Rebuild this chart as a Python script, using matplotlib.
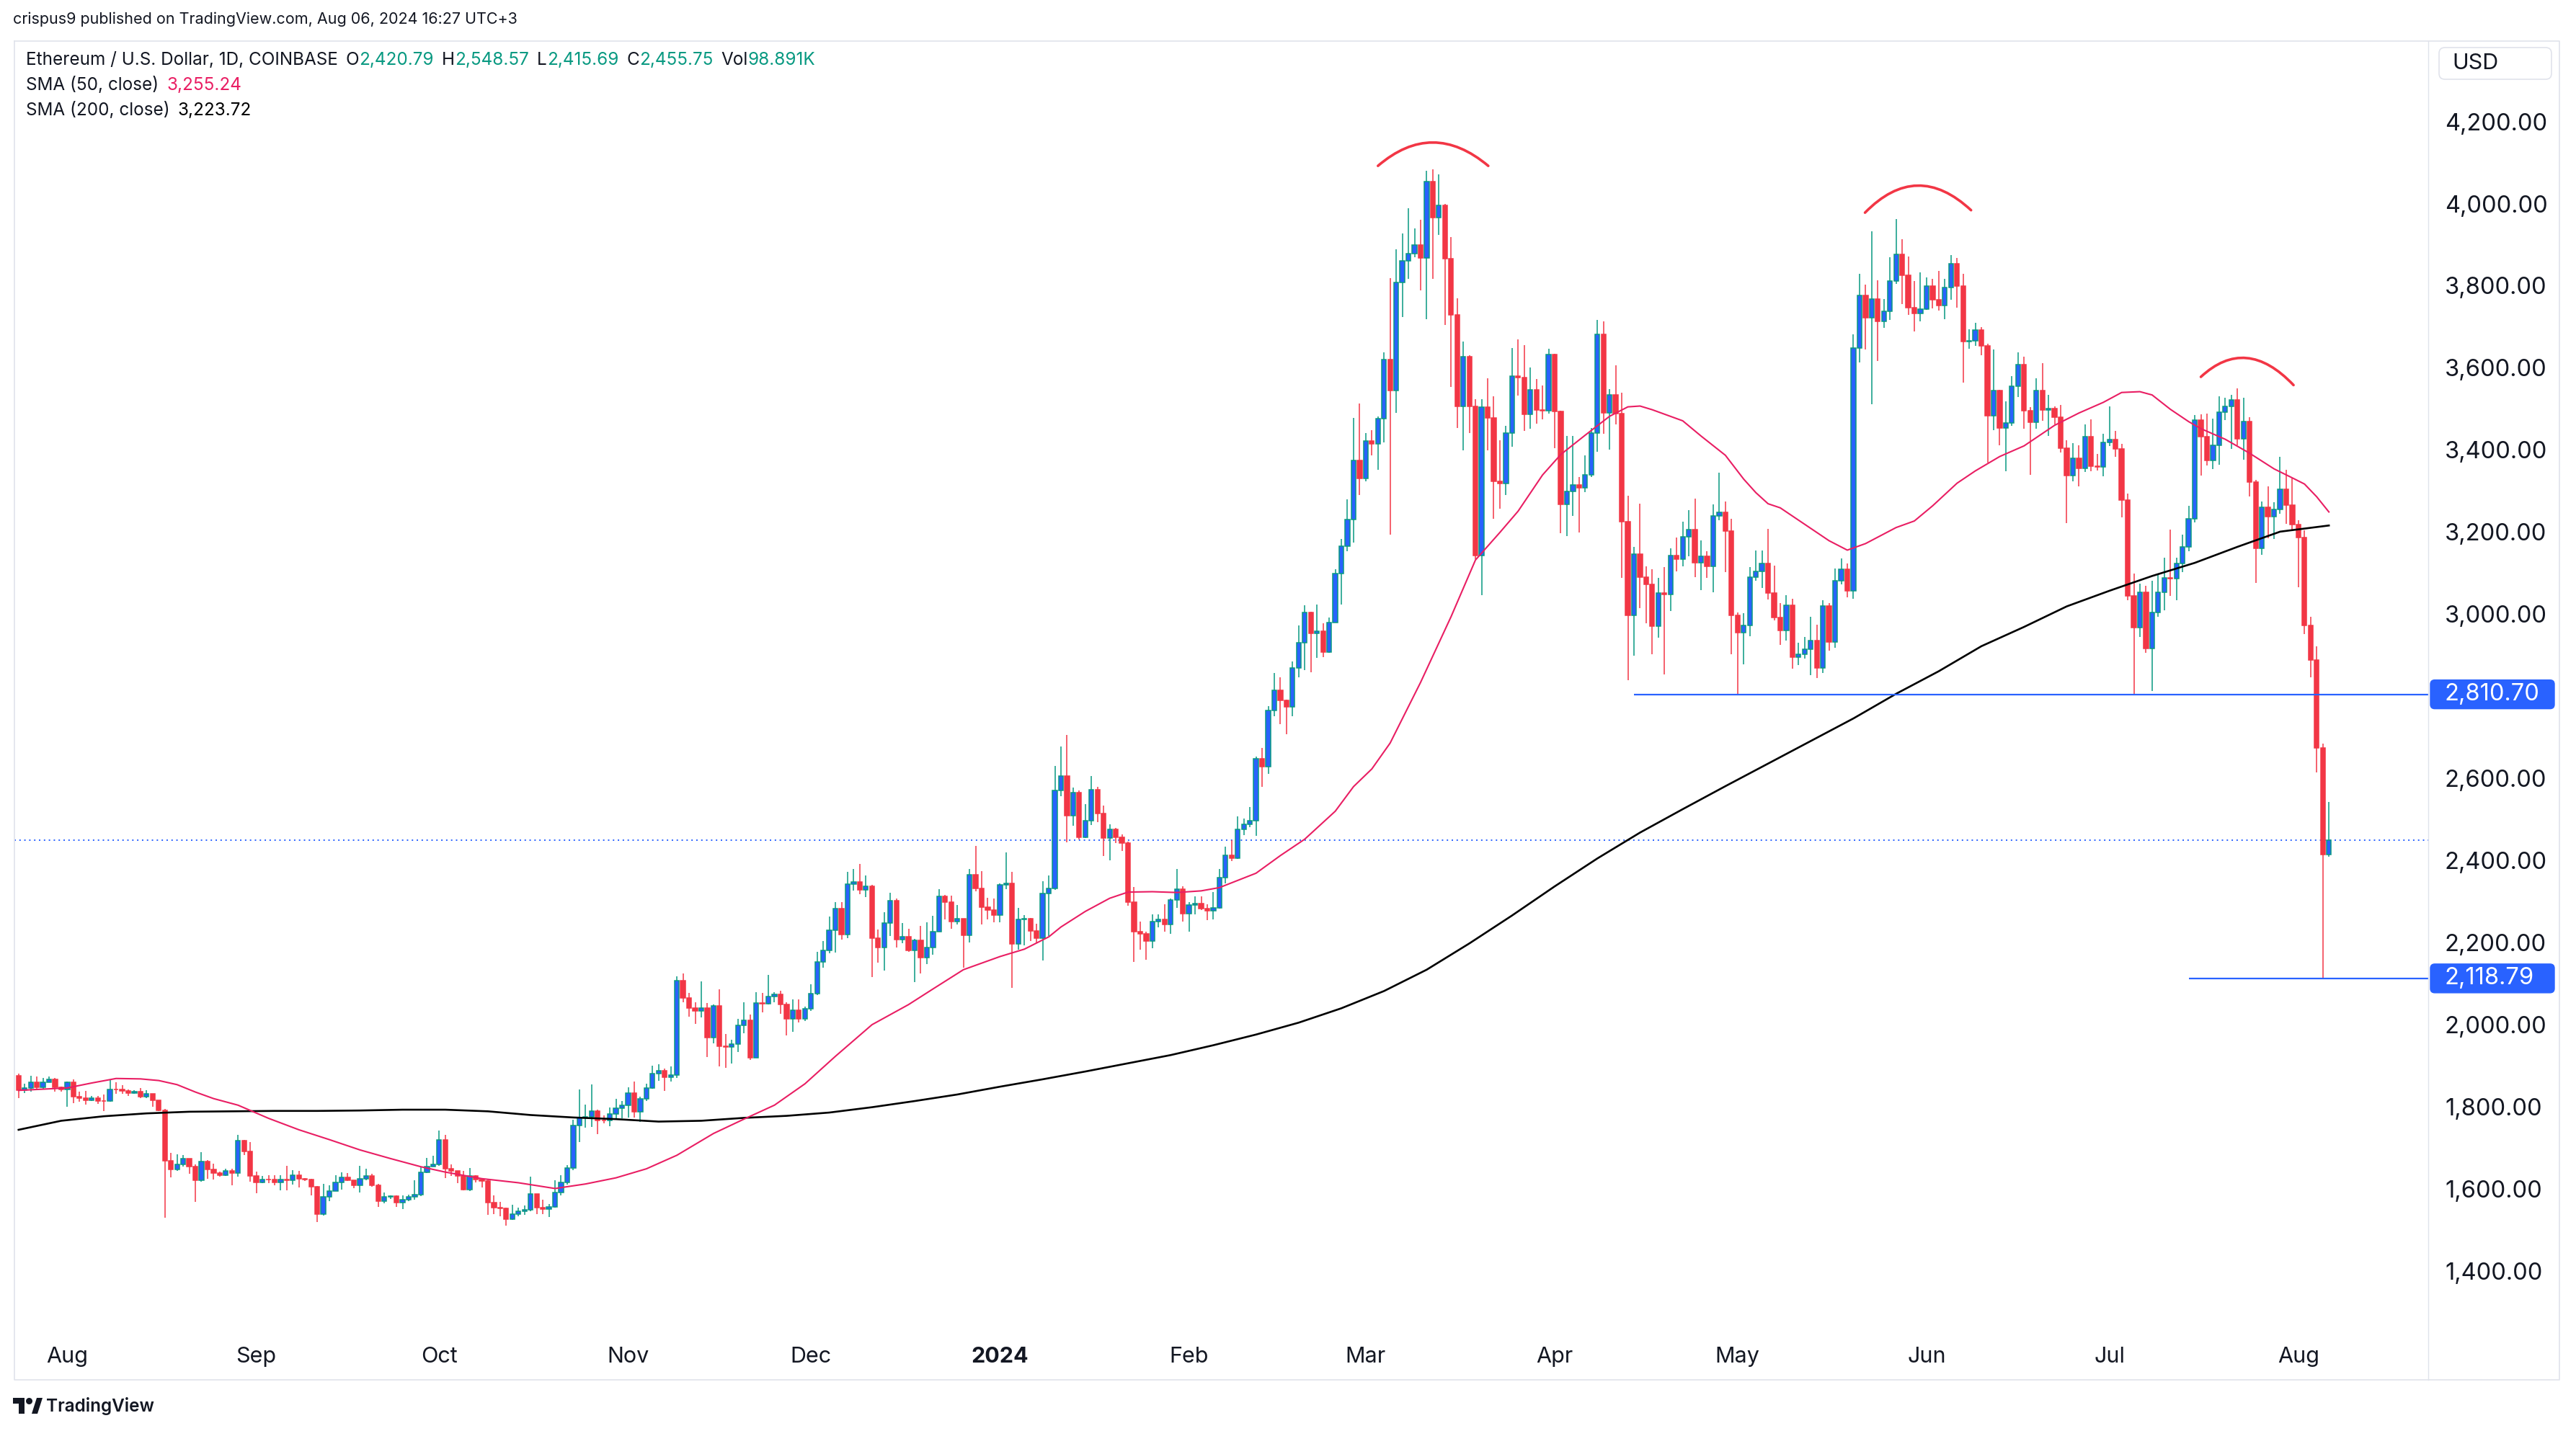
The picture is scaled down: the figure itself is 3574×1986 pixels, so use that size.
import numpy as np
import pandas as pd
import matplotlib
matplotlib.use("Agg")
import matplotlib.pyplot as plt
import matplotlib.dates as mdates
from matplotlib.path import Path
from matplotlib.patches import PathPatch, FancyBboxPatch, Circle, Polygon
from matplotlib.transforms import blended_transform_factory, Affine2D

plt.rcParams['font.family'] = ['Inter', 'DejaVu Sans']

# ETH/USD daily candles, Coinbase, 2023-07-24 .. 2024-08-06
first_day = "2023-07-24"
first_open = 1882

close = [
    1846, 1851, 1865, 1854, 1866, 1873, 1853, 1848,  # Jul
    1866, 1831, 1827, 1822, 1828, 1821, 1820, 1849, 1848, 1845, 1840, 1843, 1831, 1837, 1822, 1798,
    1675, 1653, 1665, 1679, 1660, 1627, 1672, 1653, 1644, 1640, 1650, 1645, 1723, 1698, 1638,  # Aug
    1622, 1629, 1628, 1622, 1628, 1627, 1640, 1630, 1628, 1611, 1545, 1586, 1601, 1621, 1634,
    1627, 1615, 1630, 1637, 1615, 1577, 1586, 1588, 1573, 1580, 1586, 1592, 1646, 1661, 1665,  # Sep
    1726, 1656, 1650, 1637, 1605, 1638, 1628, 1626, 1572, 1560, 1558, 1533, 1545, 1552, 1556, 1593,
    1560, 1557, 1563, 1597, 1622, 1657, 1760, 1779, 1782, 1796, 1773, 1772, 1789, 1803, 1809,  # Oct
    1840, 1794, 1826, 1851, 1886, 1894, 1878, 1883, 2114, 2071, 2047, 2039, 2046, 1974, 2052,
    1954, 1952, 1959, 2005, 2016, 1926, 2058, 2057, 2074, 2080, 2056, 2021, 2041, 2021, 2045,  # Nov
    2082, 2159, 2187, 2237, 2288, 2226, 2349, 2353, 2334, 2344, 2217, 2194, 2254, 2308, 2213, 2220,
    2187, 2211, 2170, 2194, 2233, 2319, 2304, 2257, 2264, 2224, 2372, 2338, 2292, 2285, 2273,  # Dec
    2346, 2351, 2203, 2262, 2264, 2235, 2216, 2326, 2338, 2577, 2611, 2516, 2572, 2463, 2503, 2579,
    2520, 2461, 2482, 2463, 2448, 2305, 2233, 2227, 2210, 2258, 2262, 2250, 2310, 2337, 2276,  # Jan
    2297, 2301, 2289, 2284, 2291, 2365, 2418, 2412, 2481, 2494, 2503, 2654, 2634, 2771, 2820,
    2796, 2780, 2875, 2937, 3010, 2960, 2965, 2914, 2986, 3105, 3171, 3237, 3380, 3336,  # Feb
    3428, 3420, 3483, 3626, 3550, 3814, 3867, 3885, 3905, 3874, 4059, 3972, 4001, 3872, 3735, 3512,
    3634, 3512, 3148, 3510, 3484, 3329, 3324, 3448, 3585, 3583, 3492, 3552, 3503, 3502, 3638,  # Mar
    3499, 3273, 3305, 3320, 3313, 3345, 3448, 3688, 3497, 3540, 3495, 3232, 3004, 3152, 3096,
    3078, 2977, 3058, 3054, 3149, 3140, 3195, 3212, 3132, 3147, 3123, 3246, 3255, 3208, 3004,  # Apr
    2961, 2979, 3097, 3111, 3130, 3057, 2997, 2966, 3028, 2902, 2908, 2921, 2942, 2875, 3026, 2939,
    3087, 3115, 3063, 3654, 3782, 3728, 3774, 3720, 3743, 3817, 3883, 3832, 3753, 3738, 3749,  # May
    3806, 3772, 3757, 3802, 3860, 3805, 3670, 3672, 3698, 3659, 3489, 3551, 3459, 3472, 3561,
    3614, 3502, 3474, 3551, 3504, 3507, 3486, 3411, 3343, 3386, 3362, 3439, 3366, 3364, 3424,  # Jun
    3432, 3408, 3284, 3050, 2973, 3060, 2923, 3010, 3060, 3094, 3092, 3129, 3170, 3239, 3479, 3439,
    3380, 3417, 3498, 3512, 3528, 3433, 3476, 3328, 3166, 3267, 3244, 3262, 3310, 3271, 3225,  # Jul
    3193, 2978, 2895, 2681, 2420.79, 2455.75,  # Aug
]

high = [
    1886, 1862, 1881, 1879, 1876, 1879, 1877, 1855,
    1868, 1872, 1843, 1844, 1832, 1832, 1836, 1871, 1865, 1858, 1848, 1846, 1852, 1846, 1838, 1822,
    1800, 1693, 1690, 1688, 1680, 1665, 1695, 1676, 1668, 1648, 1655, 1656, 1738, 1725, 1720,
    1648, 1638, 1640, 1640, 1640, 1663, 1652, 1650, 1632, 1630, 1613, 1619, 1615, 1640, 1647,
    1644, 1627, 1663, 1655, 1643, 1618, 1597, 1590, 1590, 1591, 1592, 1627, 1661, 1682, 1687,
    1749, 1737, 1665, 1650, 1650, 1657, 1640, 1633, 1630, 1590, 1574, 1561, 1568, 1560, 1565, 1635,
    1594, 1580, 1570, 1627, 1640, 1664, 1775, 1848, 1812, 1860, 1799, 1785, 1805, 1825, 1820,
    1853, 1868, 1830, 1863, 1907, 1909, 1900, 1905, 2124, 2130, 2083, 2060, 2112, 2058, 2056,
    2093, 1983, 1970, 2020, 2060, 2030, 2085, 2083, 2128, 2085, 2089, 2060, 2068, 2068, 2050,
    2105, 2183, 2210, 2270, 2305, 2305, 2378, 2386, 2397, 2370, 2347, 2238, 2280, 2327, 2313, 2253,
    2240, 2215, 2247, 2256, 2272, 2337, 2323, 2320, 2297, 2264, 2386, 2442, 2380, 2315, 2313,
    2350, 2426, 2379, 2291, 2273, 2266, 2252, 2355, 2369, 2637, 2684, 2711, 2583, 2576, 2543, 2611,
    2586, 2540, 2494, 2486, 2470, 2452, 2342, 2257, 2233, 2275, 2275, 2299, 2314, 2386, 2343,
    2304, 2318, 2318, 2300, 2330, 2386, 2440, 2455, 2513, 2509, 2536, 2660, 2680, 2782, 2862,
    2853, 2797, 2890, 2979, 3027, 3012, 3030, 2983, 2997, 3115, 3190, 3285, 3484, 3520,
    3447, 3455, 3487, 3643, 3825, 3895, 3934, 3994, 3945, 3966, 4086, 4090, 4078, 4006, 3925, 3775,
    3670, 3636, 3530, 3530, 3580, 3537, 3430, 3464, 3655, 3675, 3661, 3607, 3578, 3563, 3652,
    3640, 3502, 3440, 3440, 3340, 3392, 3460, 3722, 3720, 3555, 3612, 3546, 3294, 3170, 3275,
    3122, 3115, 3094, 3121, 3166, 3192, 3232, 3260, 3287, 3185, 3160, 3274, 3350, 3280, 3238,
    3011, 3009, 3120, 3161, 3161, 3213, 3124, 3033, 3052, 3043, 2937, 2950, 3000, 2980, 3040, 3033,
    3118, 3142, 3130, 3688, 3835, 3808, 3938, 3820, 3773, 3876, 3968, 3920, 3878, 3817, 3838,
    3826, 3822, 3842, 3822, 3880, 3873, 3835, 3700, 3715, 3706, 3664, 3650, 3553, 3524, 3585,
    3644, 3633, 3510, 3580, 3617, 3540, 3513, 3515, 3430, 3423, 3418, 3468, 3480, 3396, 3446,
    3512, 3453, 3420, 3299, 3105, 3080, 3075, 3088, 3105, 3144, 3212, 3144, 3200, 3270, 3491, 3492,
    3495, 3483, 3537, 3533, 3540, 3556, 3533, 3486, 3333, 3280, 3318, 3278, 3390, 3357, 3337,
    3235, 3211, 3000, 2927, 2690, 2548.57,
]

low = [
    1828, 1840, 1843, 1850, 1850, 1865, 1843, 1843,
    1806, 1815, 1818, 1811, 1820, 1814, 1795, 1819, 1838, 1838, 1832, 1838, 1828, 1827, 1806, 1795,
    1535, 1634, 1650, 1660, 1643, 1574, 1624, 1630, 1629, 1636, 1638, 1615, 1636, 1688, 1623,
    1596, 1620, 1620, 1614, 1602, 1602, 1617, 1610, 1625, 1590, 1525, 1541, 1576, 1606, 1604,
    1625, 1607, 1598, 1627, 1612, 1563, 1571, 1581, 1563, 1557, 1577, 1580, 1588, 1645, 1660,
    1662, 1632, 1638, 1620, 1602, 1600, 1622, 1610, 1543, 1545, 1540, 1516, 1530, 1540, 1543, 1552,
    1545, 1545, 1537, 1560, 1590, 1616, 1652, 1720, 1755, 1757, 1740, 1765, 1758, 1775, 1778,
    1780, 1780, 1770, 1820, 1850, 1870, 1845, 1868, 1877, 2060, 2025, 2008, 2024, 1927, 1960,
    1904, 1901, 1912, 1940, 1985, 1920, 1925, 2036, 2055, 2060, 2032, 1980, 1989, 2012, 2015,
    2040, 2078, 2145, 2180, 2182, 2214, 2216, 2333, 2324, 2317, 2122, 2158, 2138, 2222, 2194, 2205,
    2183, 2110, 2130, 2153, 2176, 2232, 2262, 2240, 2250, 2144, 2206, 2331, 2250, 2262, 2255,
    2256, 2337, 2096, 2188, 2200, 2210, 2205, 2162, 2222, 2335, 2562, 2450, 2490, 2458, 2460, 2492,
    2500, 2417, 2406, 2448, 2430, 2296, 2159, 2188, 2164, 2193, 2243, 2232, 2228, 2290, 2257,
    2233, 2274, 2286, 2260, 2262, 2288, 2350, 2405, 2410, 2467, 2487, 2466, 2586, 2617, 2757,
    2738, 2713, 2758, 2853, 2870, 2864, 2900, 2902, 2912, 2985, 3030, 3160, 3180, 3296,
    3330, 3393, 3358, 3424, 3200, 3497, 3730, 3822, 3876, 3795, 3725, 3823, 3930, 3710, 3560, 3460,
    3405, 3448, 3140, 3053, 3405, 3238, 3263, 3296, 3413, 3538, 3452, 3458, 3470, 3480, 3495,
    3410, 3204, 3196, 3246, 3205, 3304, 3340, 3402, 3445, 3406, 3468, 3095, 2845, 2905, 3020,
    2984, 2908, 2948, 2860, 3013, 3111, 3123, 3147, 3096, 3065, 3095, 3060, 3234, 3108, 2908,
    2810, 2884, 2953, 3087, 3070, 3041, 2990, 2932, 2942, 2873, 2882, 2897, 2857, 2850, 2862, 2917,
    2924, 3079, 3047, 3044, 3620, 3650, 3517, 3622, 3703, 3723, 3810, 3762, 3735, 3695, 3720,
    3748, 3750, 3745, 3724, 3772, 3753, 3570, 3653, 3660, 3637, 3375, 3455, 3418, 3355, 3465,
    3535, 3458, 3346, 3457, 3477, 3440, 3468, 3400, 3228, 3330, 3318, 3352, 3355, 3356, 3342,
    3415, 3390, 3242, 3040, 2810, 2950, 2912, 2818, 3000, 3016, 3050, 3040, 3108, 3160, 3229, 3343,
    3368, 3360, 3370, 3478, 3408, 3418, 3383, 3293, 3082, 3150, 3191, 3190, 3250, 3226, 3210,
    3071, 2957, 2853, 2620, 2118.79, 2415.69,
]

# moving averages (day index from first_day, value)
sma50_day = [0, 4, 8, 12, 16, 20, 23, 26, 29, 32, 36, 41, 46, 51, 56, 61, 66, 70, 76, 82, 88, 93,
             98, 103, 108, 114, 119, 124, 129, 134, 140, 146, 150, 155, 161, 165, 169, 171, 175,
             179, 182, 186, 190, 194, 197, 203, 207, 211, 216, 219, 222, 225, 230, 235, 239, 243,
             246, 250, 253, 257, 261, 264, 266, 268, 273, 276, 280, 283, 285, 287, 289, 293, 297,
             300, 303, 308, 311, 314, 318, 321, 325, 329, 332, 334, 338, 342, 345, 348, 350, 353,
             356, 358, 362, 366, 370, 373, 375, 377, 379]
sma50_val = [1846, 1849, 1852, 1864, 1875, 1874, 1870, 1860, 1842, 1826, 1810, 1778, 1750, 1726,
             1701, 1680, 1660, 1647, 1631, 1621, 1607, 1618, 1633, 1655, 1688, 1741, 1776, 1810,
             1862, 1929, 2006, 2055, 2093, 2140, 2172, 2190, 2220, 2244, 2282, 2314, 2329, 2330,
             2328, 2332, 2340, 2375, 2418, 2458, 2526, 2586, 2629, 2692, 2840, 3000, 3138, 3205,
             3257, 3345, 3395, 3442, 3488, 3511, 3513, 3504, 3477, 3440, 3393, 3335, 3302, 3275,
             3265, 3225, 3185, 3162, 3178, 3217, 3233, 3270, 3325, 3355, 3390, 3416, 3446, 3466,
             3496, 3522, 3546, 3548, 3540, 3505, 3475, 3458, 3432, 3398, 3360, 3338, 3323, 3292,
             3255]
sma200_day = [0, 7, 14, 21, 28, 35, 42, 49, 56, 63, 70, 77, 84, 91, 98, 105, 112, 119, 126, 133,
              140, 147, 154, 161, 168, 175, 182, 189, 196, 203, 210, 217, 224, 231, 238, 245, 252,
              259, 266, 273, 280, 287, 294, 301, 308, 315, 322, 329, 336, 343, 350, 357, 364, 371,
              379]
sma200_val = [1750, 1772, 1783, 1790, 1794, 1795, 1796, 1796, 1797, 1799, 1799, 1795, 1786, 1780,
              1776, 1770, 1772, 1779, 1784, 1792, 1805, 1820, 1836, 1855, 1873, 1892, 1912, 1932,
              1956, 1982, 2011, 2046, 2088, 2140, 2204, 2272, 2343, 2411, 2474, 2531, 2587, 2642,
              2697, 2752, 2812, 2867, 2928, 2975, 3025, 3063, 3099, 3131, 3170, 3207, 3222]

# drawings: support levels, last price, head & shoulders arcs (day index, price)
support_levels = [2810.70, 2118.79]
support_start = [265, 356]
last_price = 2455.75
arc_days = [(223.0, 232.0, 241.1), (302.9, 311.5, 320.3), (358.0, 365.5, 373.2)]
arc_prices = [(4098, 4155, 4098), (3984, 4050, 3990), (3584, 3630, 3564)]

# price scale labels (2,800 is hidden under the 2,810.70 marker in the reference)
price_ticks = [1400, 1600, 1800, 2000, 2200, 2400, 2600, 3000, 3200, 3400, 3600, 3800,
               4000, 4200]
month_starts = ["2023-08-01", "2023-09-01", "2023-10-01", "2023-11-01", "2023-12-01",
                "2024-01-01", "2024-02-01", "2024-03-01", "2024-04-01", "2024-05-01",
                "2024-06-01", "2024-07-01", "2024-08-01"]
month_labels = ["Aug", "Sep", "Oct", "Nov", "Dec", "2024", "Feb", "Mar", "Apr", "May", "Jun",
                "Jul", "Aug"]

UP_BODY = "#2962FF"
UP = "#089981"
DOWN = "#F23645"
PINK = "#E91E63"
BLUE = "#2962FF"
TEXT = "#131722"
BORDER = "#E0E3EB"

W, H = 3574, 1986
fig = plt.figure(figsize=(W / 100, H / 100), dpi=100)
fig.patch.set_facecolor("white")


def fx(px):
    return px / W


def fy(py):
    return 1 - py / H


left, right, top, bottom = 20, 3369, 57, 1850
ax = fig.add_axes([fx(left), fy(bottom), (right - left) / W, (bottom - top) / H])
ax.set_facecolor("white")
for s in ax.spines.values():
    s.set_visible(False)
ax.set_xticks([])
ax.set_yticks([])

dates = pd.date_range(first_day, periods=len(close), freq="D")
x = mdates.date2num(dates)
x0 = x[0]
c = np.array(close, dtype=float)
o = np.array([first_open] + close[:-1], dtype=float)
h = np.array(high, dtype=float)
lo = np.array(low, dtype=float)
up = c >= o

ax.set_xlim(x0 - 0.68, x0 + 395.3)
ax.set_ylim(1255, 4402)

# last price dotted line
ax.axhline(last_price, color=BLUE, lw=1.4, ls=(0, (1, 2.5)), zorder=1)

# candles
ax.vlines(x[up], lo[up], h[up], color=UP, lw=1.1, zorder=3)
ax.vlines(x[~up], lo[~up], h[~up], color=DOWN, lw=1.1, zorder=3)
ax.bar(x[up], (c - o)[up], bottom=o[up], width=0.74, facecolor=UP_BODY, edgecolor=UP,
       linewidth=1.1, zorder=4)
ax.bar(x[~up], (o - c)[~up], bottom=c[~up], width=0.74, facecolor=DOWN, edgecolor=DOWN,
       linewidth=1.1, zorder=4)

# moving averages
ax.plot(x0 + np.array(sma200_day), sma200_val, color="black", lw=1.9, zorder=5)
ax.plot(x0 + np.array(sma50_day), sma50_val, color=PINK, lw=1.5, zorder=5)

# support lines
for lvl, d0 in zip(support_levels, support_start):
    ax.hlines(lvl, x0 + d0, x0 + 400, color=BLUE, lw=1.6, zorder=6)

# head & shoulders arcs
for ds, ps in zip(arc_days, arc_prices):
    p0 = np.array([x0 + ds[0], ps[0]])
    pk = np.array([x0 + ds[1], ps[1]])
    p2 = np.array([x0 + ds[2], ps[2]])
    ctrl = 2 * pk - (p0 + p2) / 2
    path = Path([p0, ctrl, p2], [Path.MOVETO, Path.CURVE3, Path.CURVE3])
    ax.add_patch(PathPatch(path, fill=False, ec=DOWN, lw=2.6, zorder=6, capstyle="round"))

pix = Affine2D().scale(1 / W, -1 / H).translate(0, 1) + fig.transFigure

# price scale
ytr = blended_transform_factory(fig.transFigure, ax.transData)
for p in price_ticks:
    fig.text(fx(3392), p, f"{p:,.2f}", transform=ytr, ha="left", va="center",
             fontsize=23.5, color=TEXT)
for lvl in support_levels:
    py = H - ax.transData.transform((x0, lvl))[1]
    fig.add_artist(FancyBboxPatch((3372, py - 20), 172, 40,
                                  boxstyle="round,pad=0,rounding_size=6",
                                  transform=pix, fc=BLUE, ec=BLUE, zorder=3))
    fig.text(fx(3392), lvl, f"{lvl:,.2f}", transform=ytr, ha="left", va="center",
             fontsize=23.5, color="white", zorder=4)

# time scale
xtr = blended_transform_factory(ax.transData, fig.transFigure)
for ms, lab in zip(month_starts, month_labels):
    fig.text(mdates.date2num(pd.Timestamp(ms)), fy(1883), lab, transform=xtr, ha="center",
             va="center", fontsize=22, color=TEXT,
             fontweight="bold" if lab == "2024" else "normal")

# frame
fig.add_artist(plt.Line2D([20, 3551, 3551, 20, 20], [57, 57, 1915, 1915, 57],
                          transform=pix, color=BORDER, lw=1.2))
fig.add_artist(plt.Line2D([right, right], [57, 1915], transform=pix, color=BORDER, lw=1.0))

# USD box
fig.add_artist(FancyBboxPatch((3384, 66), 156, 44, boxstyle="round,pad=0,rounding_size=8",
                              transform=pix, fc="white", ec=BORDER, lw=1.2))
fig.text(fx(3402), fy(88), "USD", ha="left", va="center", fontsize=22, color=TEXT)


# legend lines
def chain(parts, px, py, size=17.5):
    t = fig.text(fx(px), fy(py), parts[0][0], color=parts[0][1], fontsize=size,
                 ha="left", va="center")
    for s, col, gap in parts[1:]:
        t = ax.annotate(s, xy=(1, 0), xycoords=t, xytext=(gap, 0), textcoords="offset points",
                        ha="left", va="bottom", fontsize=size, color=col,
                        annotation_clip=False)
    return t


chain([("Ethereum / U.S. Dollar, 1D, COINBASE", TEXT),
       ("O", TEXT, 8), ("2,420.79", UP, 0),
       ("H", TEXT, 8), ("2,548.57", UP, 0),
       ("L", TEXT, 8), ("2,415.69", UP, 0),
       ("C", TEXT, 8), ("2,455.75", UP, 0),
       ("Vol", TEXT, 8), ("98.891K", UP, 0)], 36, 84)
chain([("SMA (50, close)", TEXT), ("3,255.24", PINK, 8)], 36, 118)
chain([("SMA (200, close)", TEXT), ("3,223.72", "black", 8)], 36, 153)

# header and footer
fig.text(fx(18), fy(27), "crispus9 published on TradingView.com, Aug 06, 2024 16:27 UTC+3",
         ha="left", va="center", fontsize=15.5, color=TEXT)
fig.add_artist(Polygon([(18, 1940), (34, 1940), (34, 1962), (26, 1962), (26, 1948), (18, 1948)],
                       closed=True, transform=pix, fc=TEXT, ec="none"))
fig.add_artist(Circle((40.5, 1944.5), 4.5, transform=pix, fc=TEXT, ec="none"))
fig.add_artist(Polygon([(44, 1962), (51, 1940), (59, 1940), (52, 1962)], closed=True,
                       transform=pix, fc=TEXT, ec="none"))
fig.text(fx(64), fy(1951), "TradingView", ha="left", va="center", fontsize=17.5,
         fontweight="semibold", color=TEXT)

fig.savefig("out.png", dpi=100, facecolor="white")
